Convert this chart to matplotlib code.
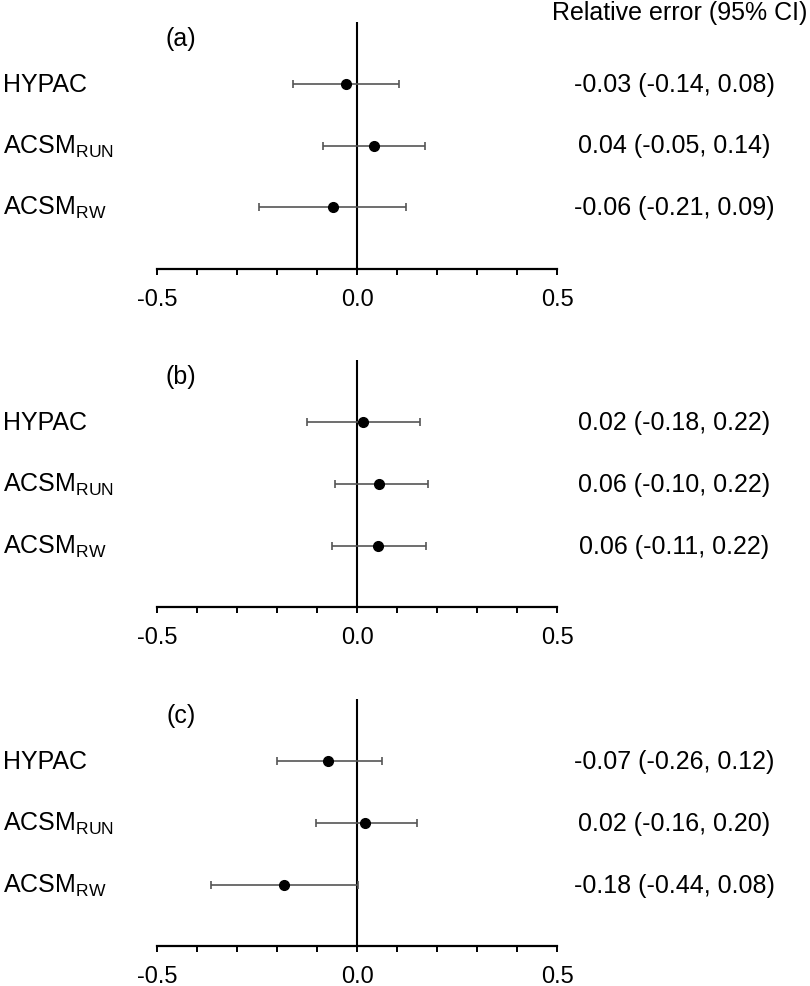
import matplotlib
matplotlib.use("Agg")
import matplotlib.pyplot as plt
from matplotlib.transforms import blended_transform_factory
from matplotlib.ticker import MultipleLocator, FixedLocator

plt.rcParams['font.family'] = ['Liberation Sans', 'DejaVu Sans']
plt.rcParams['mathtext.fontset'] = 'custom'
plt.rcParams['mathtext.rm'] = 'Liberation Sans'
plt.rcParams['mathtext.it'] = 'Liberation Sans:italic'
plt.rcParams['mathtext.bf'] = 'Liberation Sans:bold'

# ---- data ----
methods = ["HYPAC", r"ACSM$_{\mathrm{RUN}}$", r"ACSM$_{\mathrm{RW}}$"]
panel_labels = ["(a)", "(b)", "(c)"]

est_a = [-0.028, 0.042, -0.061]
lo_a = [-0.159, -0.084, -0.244]
hi_a = [0.106, 0.169, 0.122]
txt_a = ["-0.03 (-0.14, 0.08)", "0.04 (-0.05, 0.14)", "-0.06 (-0.21, 0.09)"]

est_b = [0.015, 0.056, 0.052]
lo_b = [-0.125, -0.056, -0.062]
hi_b = [0.158, 0.177, 0.173]
txt_b = ["0.02 (-0.18, 0.22)", "0.06 (-0.10, 0.22)", "0.06 (-0.11, 0.22)"]

est_c = [-0.072, 0.020, -0.183]
lo_c = [-0.200, -0.102, -0.364]
hi_c = [0.063, 0.151, 0.003]
txt_c = ["-0.07 (-0.26, 0.12)", "0.02 (-0.16, 0.20)", "-0.18 (-0.44, 0.08)"]

header = "Relative error (95% CI)"
xticks = [-0.5, 0.0, 0.5]
xticklabels = ["-0.5", "0.0", "0.5"]

panels = [
    (est_a, lo_a, hi_a, txt_a),
    (est_b, lo_b, hi_b, txt_b),
    (est_c, lo_c, hi_c, txt_c),
]

W, H = 810, 987
fig = plt.figure(figsize=(W / 100, H / 100), dpi=100)

axis_y_px = [270, 608.3, 947.3]
left_px, width_px = 157, 400
height_px = 247

rows_y = [3, 2, 1]
FS = 18

for i, (est, lo, hi, txts) in enumerate(panels):
    bottom = 1 - axis_y_px[i] / H
    ax = fig.add_axes([left_px / W, bottom, width_px / W, height_px / H])
    ax.set_xlim(-0.5, 0.5)
    ax.set_ylim(0, 4)
    for s in ["top", "right", "left"]:
        ax.spines[s].set_visible(False)
    ax.spines["bottom"].set_linewidth(1.6)
    ax.set_yticks([])
    ax.xaxis.set_major_locator(FixedLocator(xticks))
    ax.set_xticklabels(xticklabels, fontsize=17)
    ax.xaxis.set_minor_locator(MultipleLocator(0.1))
    ax.tick_params(axis='x', which='both', direction='out', length=4.5, width=1.4, pad=9)
    ax.axvline(0, ymin=0, ymax=1, color='black', lw=1.5)

    xerr = [[e - l for e, l in zip(est, lo)], [h - e for e, h in zip(est, hi)]]
    ax.errorbar(est, rows_y, xerr=xerr, fmt='o', color='black', ms=7,
                ecolor='#555555', elinewidth=1.2, capsize=3, capthick=1.2, zorder=3)

    ax.text(-0.44, 3.74, panel_labels[i], fontsize=FS, ha='center', va='center')

    tr = blended_transform_factory(fig.transFigure, ax.transData)
    for y, m, t in zip(rows_y, methods, txts):
        ax.text(3 / W, y, m, transform=tr, fontsize=FS, ha='left', va='center')
        ax.text(674.5 / W, y, t, transform=tr, fontsize=FS, ha='center', va='center')

fig.text(807 / W, 1 - 13 / H, header, fontsize=FS, ha='right', va='center')

fig.savefig("out.png", dpi=100)
